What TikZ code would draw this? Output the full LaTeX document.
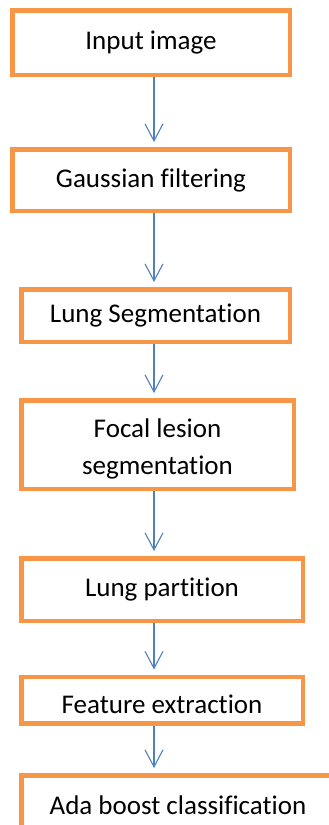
\documentclass[tikz,border=0pt]{standalone}
\usepackage{fontspec}
\setmainfont{Carlito}[Ligatures={NoCommon}]
\usetikzlibrary{arrows.meta}
\definecolor{boxorange}{RGB}{247,150,70}
\definecolor{arrowblue}{RGB}{79,129,189}
\begin{document}
\begin{tikzpicture}[x=1pt,y=1pt,
  stepbox/.style={draw=boxorange, line width=4.5pt, fill=white, inner sep=0pt,
    align=center, font=\fontsize{27}{37}\selectfont},
  flow/.style={draw=arrowblue, line width=1.1pt,
    -{Straight Barb[length=17pt,width=18pt,line width=1.1pt]}, shorten >=5pt}]
\useasboundingbox (0,0) rectangle (329,-825);
\clip (0,0) rectangle (329,-825);
\node[stepbox, minimum width=277.5pt, minimum height=64.5pt] (b1) at (151,-42.5) {Input image};
\node[stepbox, minimum width=277.5pt, minimum height=61.5pt] (b2) at (151,-180) {Gaussian filtering};
\node[stepbox, minimum width=268.5pt, minimum height=52.5pt] (b3) at (155.5,-315.5) {Lung Segmentation};
\node[stepbox, minimum width=272.5pt, minimum height=88.5pt] (b4) at (157.5,-444.5) {\rule{0pt}{28pt}Focal lesion\\segmentation};
\node[stepbox, minimum width=281.5pt, minimum height=62.5pt] (b5) at (162,-589.5) {Lung partition};
\node[stepbox, minimum width=281.5pt, minimum height=46.5pt] (b6) at (162,-700) {\rule{0pt}{27pt}Feature extraction};
\node[stepbox, minimum width=313.5pt, minimum height=59.5pt] (b7) at (178,-805) {Ada boost classification};
\coordinate (ax) at (154,0);
\draw[flow] (b1.south -| ax) -- (b2.north -| ax);
\draw[flow] (b2.south -| ax) -- (b3.north -| ax);
\draw[flow] (b3.south -| ax) -- (b4.north -| ax);
\draw[flow] (b4.south -| ax) -- (b5.north -| ax);
\draw[flow] (b5.south -| ax) -- (b6.north -| ax);
\draw[flow] (b6.south -| ax) -- (b7.north -| ax);
\end{tikzpicture}
\end{document}
